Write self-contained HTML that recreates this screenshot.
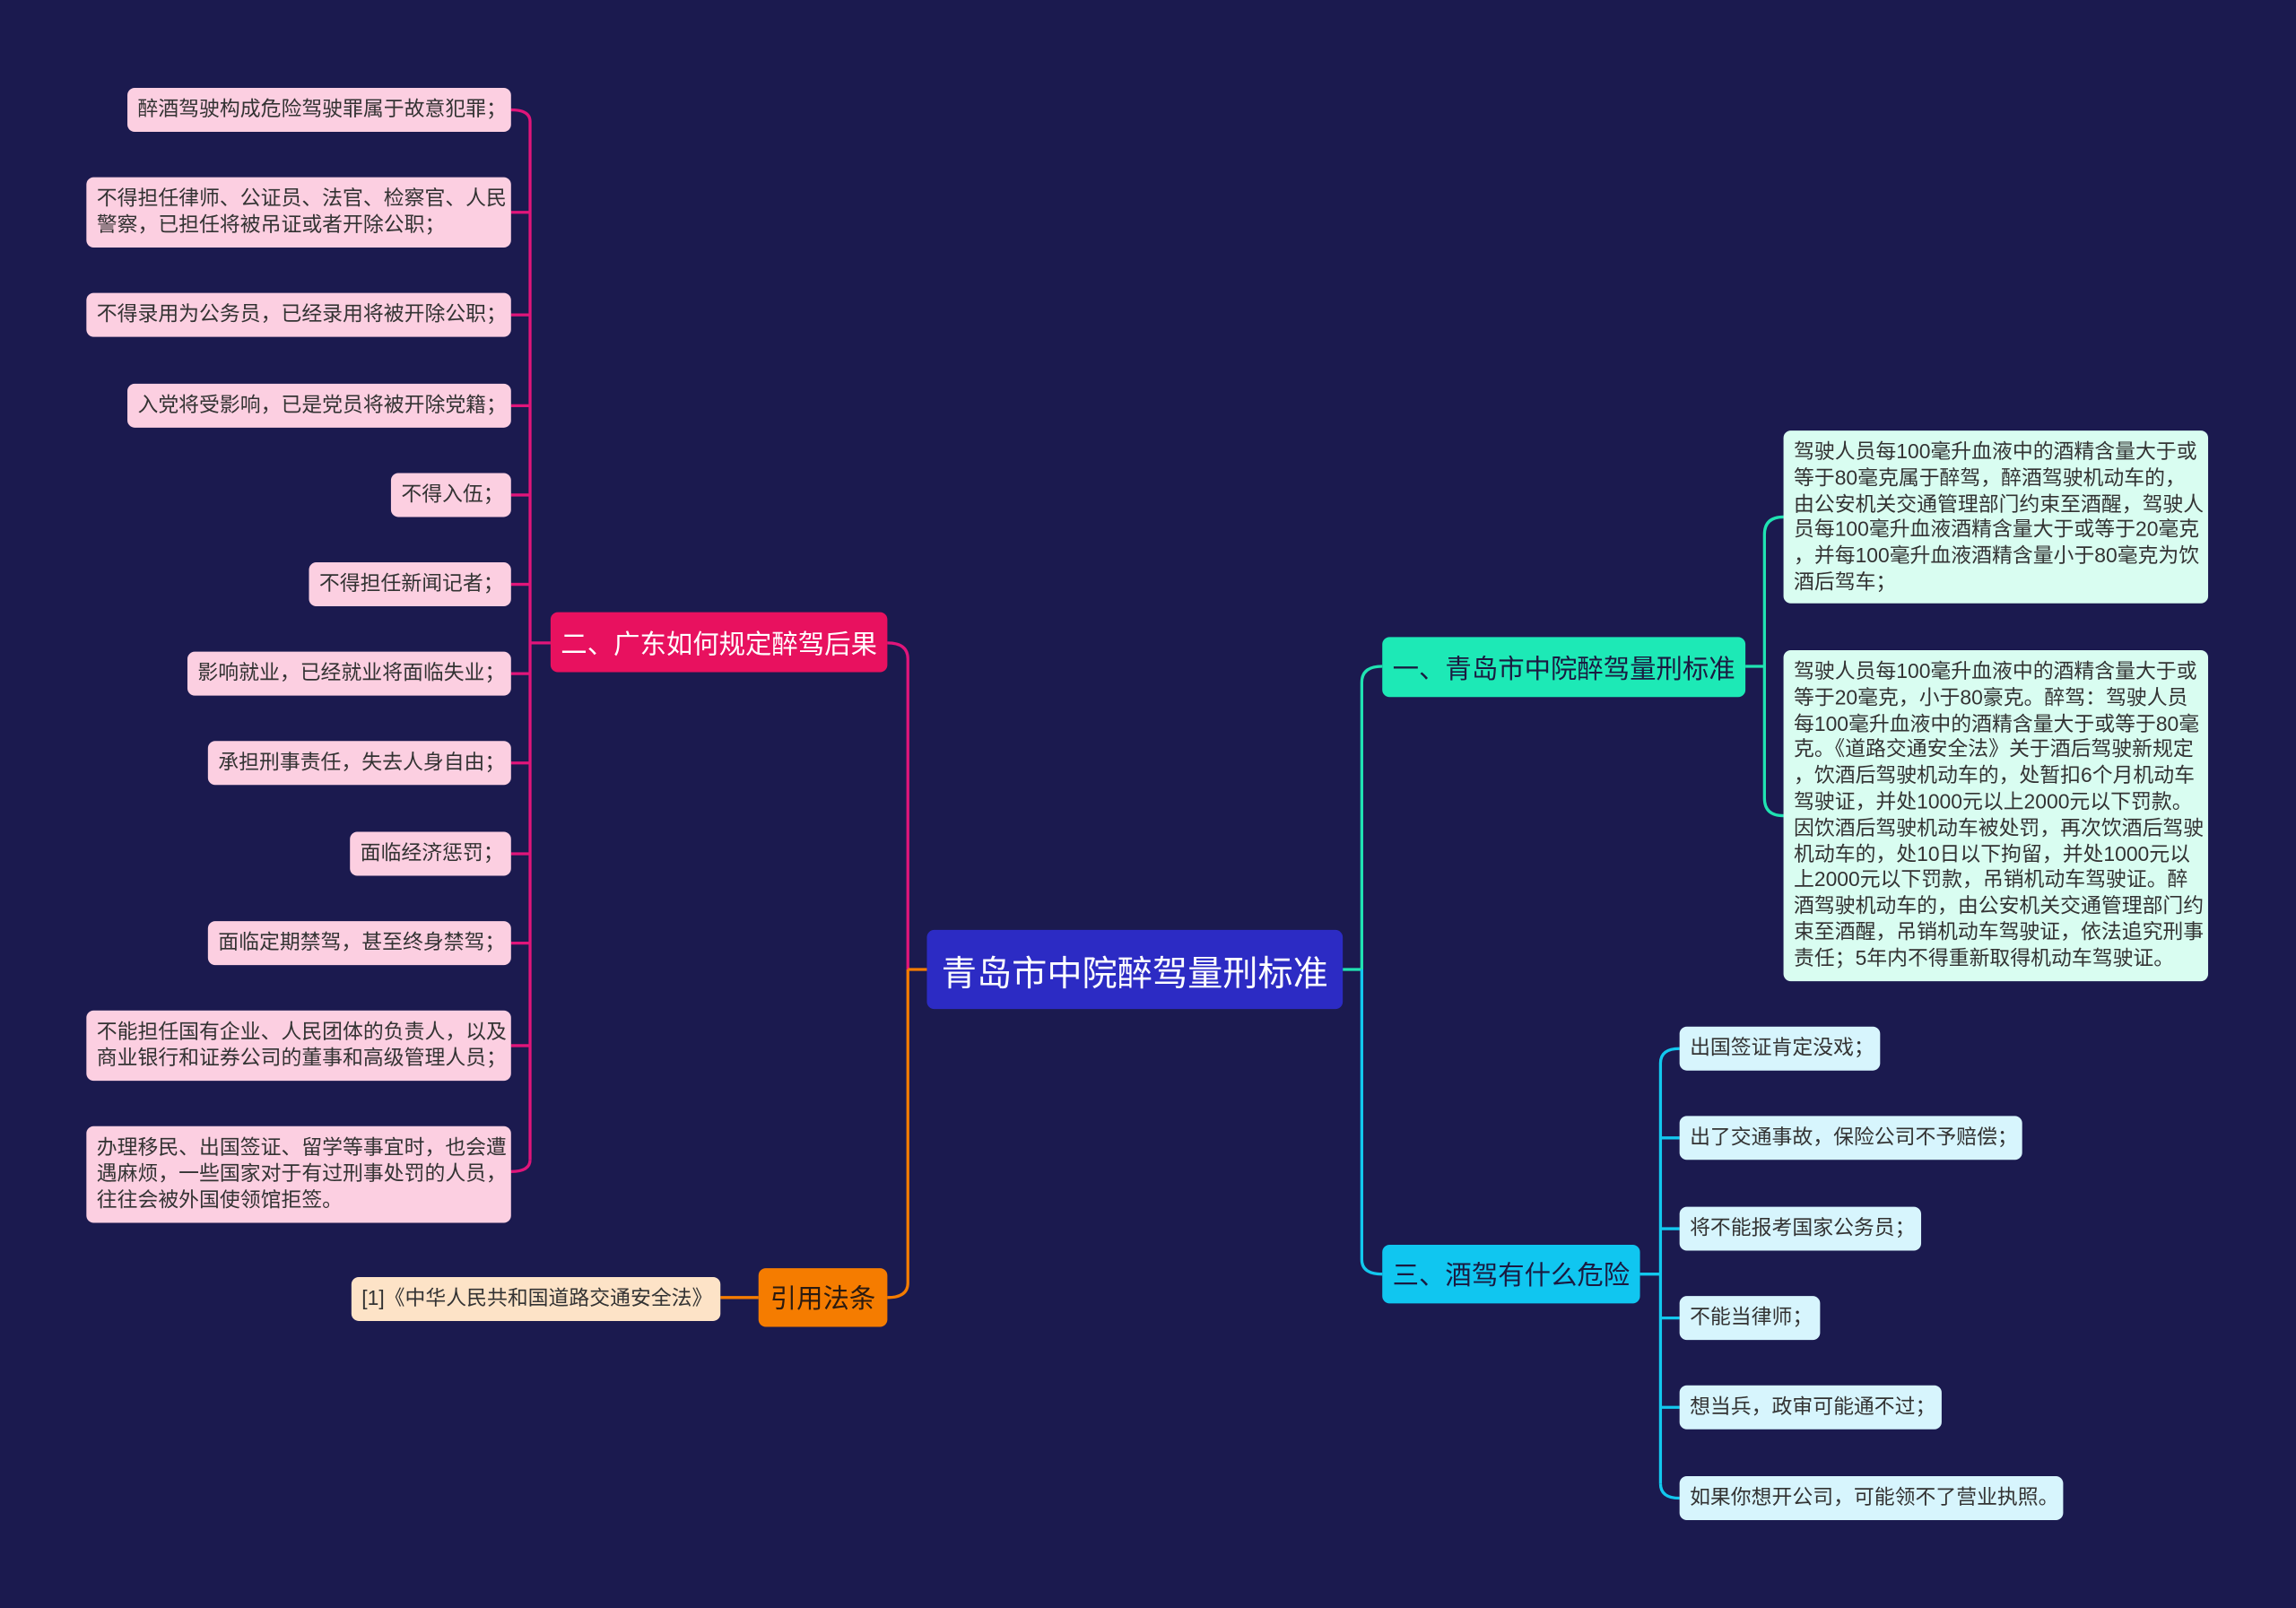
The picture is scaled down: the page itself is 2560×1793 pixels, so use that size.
<!DOCTYPE html>
<html><head><meta charset="utf-8">
<style>
html,body{margin:0;padding:0;background:#1b1a4f;}
body{width:2560px;height:1793px;overflow:hidden;}
#s{position:absolute;left:0;top:0;width:1568px;height:1098px;transform:scale(1.63265,1.63297);transform-origin:0 0;font-family:"Liberation Sans","Noto Sans CJK SC",sans-serif;}
.b{position:absolute;box-sizing:border-box;border-radius:5px;white-space:nowrap;}
.l{font-size:14px;color:#333;line-height:17.8px;padding:6px 7px;background:#fccfe1;}
.c{background:#d7f5fd;}
.t{background:#d9fdf1;font-size:14px;color:#333;line-height:17.8px;padding:6px 7px;}
.br{font-size:18px;display:flex;align-items:center;justify-content:center;}
svg{position:absolute;left:0;top:0;}
</style></head><body><div id="s">
<svg width="1568" height="1098" fill="none" stroke-width="2">
<g stroke="#e0157a">
<path d="M376,439 H362"/>
<path d="M362,83 V792"/>
<path d="M349,75 Q362,75 362,83"/>
<path d="M349,145 H362"/><path d="M349,215 H362"/><path d="M349,277 H362"/><path d="M349,338 H362"/><path d="M349,399 H362"/><path d="M349,460 H362"/><path d="M349,521 H362"/><path d="M349,583 H362"/><path d="M349,644 H362"/><path d="M349,714 H362"/>
<path d="M349,800 Q362,800 362,792"/>
<path d="M606,439 Q620,439 620,450 V662"/>
</g>
<g stroke="#f57c00"><path d="M620,662 V876 Q620,886 606,886"/><path d="M492,886 H518"/><path d="M620,662 H633"/></g>
<g stroke="#20e3b2"><path d="M917,662 H930 V466 Q930,455 944,455"/><path d="M1192,455 H1205"/><path d="M1205,365 V545"/><path d="M1205,365 Q1205,353 1218,353"/><path d="M1205,545 Q1205,557 1218,557"/></g>
<g stroke="#12c8ee"><path d="M930,662 V860 Q930,870 944,870"/><path d="M1120,870 H1134"/><path d="M1134,726 V1013"/>
<path d="M1134,726 Q1134,716 1147,716"/><path d="M1134,777 H1147"/><path d="M1134,839 H1147"/><path d="M1134,900 H1147"/><path d="M1134,961 H1147"/><path d="M1134,1013 Q1134,1023 1147,1023"/></g>
</svg>
<div class="b br" style="left:633px;top:635px;width:284px;height:54px;background:#2c2bc4;color:#fff;font-size:24px;">青岛市中院醉驾量刑标准</div>
<div class="b br" style="left:376px;top:418px;width:230px;height:41px;background:#e8115f;color:#fff;">二、广东如何规定醉驾后果</div>
<div class="b br" style="left:518px;top:866px;width:88px;height:40px;background:#f57c00;color:#2a1a10;">引用法条</div>
<div class="b l" style="left:240px;top:872px;width:252px;height:30px;background:#fde3c7;">[1]《中华人民共和国道路交通安全法》</div>
<div class="b br" style="left:944px;top:435px;width:248px;height:41px;background:#1de9b6;color:#1a1a40;">一、青岛市中院醉驾量刑标准</div>
<div class="b br" style="left:944px;top:850px;width:176px;height:40px;background:#10c6f0;color:#1a1a40;">三、酒驾有什么危险</div>

<div class="b l" style="left:87px;top:60px;width:262px;height:30px;">醉酒驾驶构成危险驾驶罪属于故意犯罪；</div>
<div class="b l" style="left:59px;top:121px;width:290px;height:48px;">不得担任律师、公证员、法官、检察官、人民<br>警察，已担任将被吊证或者开除公职；</div>
<div class="b l" style="left:59px;top:200px;width:290px;height:30px;">不得录用为公务员，已经录用将被开除公职；</div>
<div class="b l" style="left:87px;top:262px;width:262px;height:30px;">入党将受影响，已是党员将被开除党籍；</div>
<div class="b l" style="left:267px;top:323px;width:82px;height:30px;">不得入伍；</div>
<div class="b l" style="left:211px;top:384px;width:138px;height:30px;">不得担任新闻记者；</div>
<div class="b l" style="left:128px;top:445px;width:221px;height:30px;">影响就业，已经就业将面临失业；</div>
<div class="b l" style="left:142px;top:506px;width:207px;height:30px;">承担刑事责任，失去人身自由；</div>
<div class="b l" style="left:239px;top:568px;width:110px;height:30px;">面临经济惩罚；</div>
<div class="b l" style="left:142px;top:629px;width:207px;height:30px;">面临定期禁驾，甚至终身禁驾；</div>
<div class="b l" style="left:59px;top:690px;width:290px;height:48px;">不能担任国有企业、人民团体的负责人，以及<br>商业银行和证券公司的董事和高级管理人员；</div>
<div class="b l" style="left:59px;top:769px;width:290px;height:66px;">办理移民、出国签证、留学等事宜时，也会遭<br>遇麻烦，一些国家对于有过刑事处罚的人员，<br>往往会被外国使领馆拒签。</div>

<div class="b t" style="left:1218px;top:294px;width:290px;height:118px;">驾驶人员每100毫升血液中的酒精含量大于或<br>等于80毫克属于醉驾，醉酒驾驶机动车的，<br>由公安机关交通管理部门约束至酒醒，驾驶人<br>员每100毫升血液酒精含量大于或等于20毫克<br>，并每100毫升血液酒精含量小于80毫克为饮<br>酒后驾车；</div>
<div class="b t" style="left:1218px;top:444px;width:290px;height:226px;">驾驶人员每100毫升血液中的酒精含量大于或<br>等于20毫克，小于80豪克。醉驾：驾驶人员<br>每100毫升血液中的酒精含量大于或等于80毫<br>克。《道路交通安全法》关于酒后驾驶新规定<br>，饮酒后驾驶机动车的，处暂扣6个月机动车<br>驾驶证，并处1000元以上2000元以下罚款。<br>因饮酒后驾驶机动车被处罚，再次饮酒后驾驶<br>机动车的，处10日以下拘留，并处1000元以<br>上2000元以下罚款，吊销机动车驾驶证。醉<br>酒驾驶机动车的，由公安机关交通管理部门约<br>束至酒醒，吊销机动车驾驶证，依法追究刑事<br>责任；5年内不得重新取得机动车驾驶证。</div>

<div class="b l c" style="left:1147px;top:701px;width:137px;height:30px;">出国签证肯定没戏；</div>
<div class="b l c" style="left:1147px;top:762px;width:234px;height:30px;">出了交通事故，保险公司不予赔偿；</div>
<div class="b l c" style="left:1147px;top:824px;width:165px;height:30px;">将不能报考国家公务员；</div>
<div class="b l c" style="left:1147px;top:885px;width:96px;height:30px;">不能当律师；</div>
<div class="b l c" style="left:1147px;top:946px;width:179px;height:30px;">想当兵，政审可能通不过；</div>
<div class="b l c" style="left:1147px;top:1008px;width:262px;height:30px;">如果你想开公司，可能领不了营业执照。</div>
</div></body></html>
